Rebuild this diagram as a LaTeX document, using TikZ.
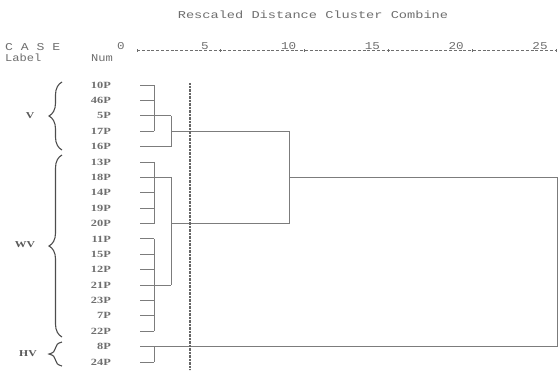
\documentclass[tikz,border=0pt]{standalone}
\usepackage{fontspec}
\usepackage{graphicx}
\setmainfont{Liberation Serif}
\newfontfamily\monofnt{Liberation Mono}
\usetikzlibrary{decorations.pathreplacing}
\definecolor{txtgray}{HTML}{6E6E6E}
\definecolor{linegray}{HTML}{7C7C7C}
\definecolor{dotgray}{HTML}{666666}
\tikzset{
  mono/.style={inner sep=0pt, text=txtgray, font=\monofnt\fontsize{10.5}{12}\selectfont},
  rowlab/.style={inner sep=0pt, anchor=east, text=txtgray, font=\bfseries\fontsize{9.5}{11}\selectfont},
  grplab/.style={inner sep=0pt, text=txtgray!80!black, font=\bfseries\fontsize{9}{11}\selectfont},
  link/.style={draw=linegray, line width=0.9pt},
  grpbrace/.style={draw=txtgray!70!black, line width=1.1pt, decorate, decoration={brace, amplitude=13pt}},
  cutline/.style={draw=dotgray, line width=1.3pt, dash pattern=on 0.7pt off 0.7pt},
  axisline/.style={draw=txtgray, line width=0.7pt, dash pattern=on 3pt off 1.8pt}
}
\newcommand{\wide}[2]{\scalebox{#1}[1]{#2}}
\begin{document}
\begin{tikzpicture}[x=1pt,y=-1pt]
\useasboundingbox (0,0) rectangle (559,372);
% title and header
\node[mono] (title) at (313,15) {\wide{1.3}{Rescaled Distance Cluster Combine}};
\node[mono, anchor=west] (case) at (5,47) {\wide{1.25}{C A S E}};
\node[mono, anchor=west] (label) at (5,58) {\wide{1.15}{Label}};
\node[mono, anchor=west] (num) at (91,58) {\wide{1.15}{Num}};
% axis
\foreach \v [count=\k from 0] in {0,5,10,15,20,25} {
  \node[mono] (t\k) at ({137+83.8*\k-16},46) {\wide{1.2}{\v}};
  \coordinate (k\k) at ({137+83.8*\k},50);
}
\draw[axisline] (k0) -- (k5);
\foreach \k in {0,...,5} {
  \draw[draw=txtgray, line width=0.7pt] ([yshift=-1.5pt]k\k) -- ([yshift=1.5pt]k\k);
}
% rows
\foreach \n [count=\i from 0] in {10P,46P,5P,17P,16P,13P,18P,14P,19P,20P,11P,15P,12P,21P,23P,7P,22P,8P,24P} {
  \node[rowlab] (l\i) at (111,{85+15.39*\i}) {\wide{1.3}{\n}};
  \coordinate (s\i) at (140,{85+15.39*\i});
}
% merge columns
\coordinate (xa) at (154,0);
\coordinate (xb) at (171,0);
\coordinate (xc) at (289,0);
\coordinate (xd) at (557,0);
% V cluster
\foreach \i in {0,1,3} { \draw[link] (s\i) -- (s\i -| xa); }
\draw[link] (s0 -| xa) -- (s3 -| xa);
\draw[link] (s2) -- (s2 -| xb);
\draw[link] (s4) -- (s4 -| xb);
\draw[link] (s2 -| xb) -- (s4 -| xb);
\draw[link] (s3 -| xb) -- (s3 -| xc);
% WV cluster
\foreach \i in {5,7,8,9} { \draw[link] (s\i) -- (s\i -| xa); }
\draw[link] (s5 -| xa) -- (s9 -| xa);
\draw[link] (s6) -- (s6 -| xb);
\foreach \i in {10,11,12,14,15,16} { \draw[link] (s\i) -- (s\i -| xa); }
\draw[link] (s10 -| xa) -- (s16 -| xa);
\draw[link] (s13) -- (s13 -| xb);
\draw[link] (s6 -| xb) -- (s13 -| xb);
\draw[link] (s9 -| xb) -- (s9 -| xc);
% V + WV
\draw[link] (s3 -| xc) -- (s9 -| xc);
\draw[link] (s6 -| xc) -- (s6 -| xd);
% HV cluster
\draw[link] (s18) -- (s18 -| xa);
\draw[link] (s17 -| xa) -- (s18 -| xa);
\draw[link] (s17) -- (s17 -| xd);
% final join
\draw[link] (s6 -| xd) -- (s17 -| xd);
% cut line
\coordinate (cuttop) at (190,83);
\coordinate (cutbot) at (190,370);
\draw[cutline] (cuttop) -- (cutbot);
% braces and group labels
\draw[grpbrace] (62,150) -- (62,82);
\draw[grpbrace] (62,337) -- (62,155);
\draw[grpbrace] (62,366) -- (62,342);
\node[grplab] (gv) at (30,116) {\wide{1.3}{V}};
\node[grplab] (gwv) at (25,245) {\wide{1.3}{WV}};
\node[grplab] (ghv) at (28,354) {\wide{1.3}{HV}};
\end{tikzpicture}
\end{document}
